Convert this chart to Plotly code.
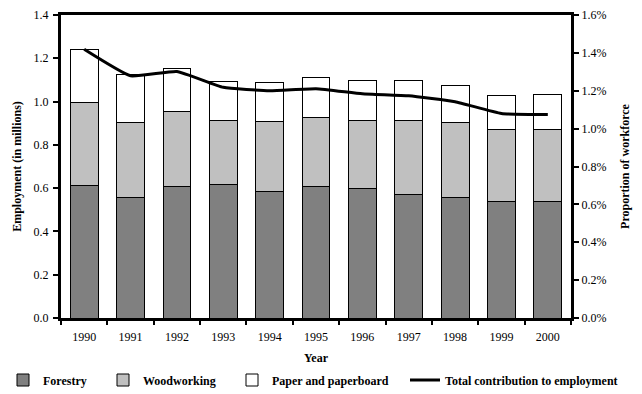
import plotly.graph_objects as go

years = ["1990", "1991", "1992", "1993", "1994", "1995", "1996", "1997", "1998", "1999", "2000"]
forestry = [0.611, 0.556, 0.607, 0.616, 0.583, 0.607, 0.597, 0.569, 0.556, 0.537, 0.537]
woodworking = [0.383, 0.349, 0.349, 0.295, 0.323, 0.318, 0.315, 0.343, 0.346, 0.332, 0.332]
paper = [0.246, 0.218, 0.199, 0.181, 0.180, 0.184, 0.185, 0.185, 0.170, 0.157, 0.162]
total_pct = [1.419, 1.279, 1.302, 1.218, 1.200, 1.211, 1.184, 1.173, 1.142, 1.080, 1.075]

font_family = "Liberation Serif"

fig = go.Figure()
fig.add_trace(go.Bar(x=years, y=forestry, name="Forestry", legend="legend",
                     marker=dict(color="#808080", line=dict(color="black", width=1))))
fig.add_trace(go.Bar(x=years, y=woodworking, name="Woodworking", legend="legend2",
                     marker=dict(color="#c0c0c0", line=dict(color="black", width=1))))
fig.add_trace(go.Bar(x=years, y=paper, name="Paper and paperboard", legend="legend3",
                     marker=dict(color="white", line=dict(color="black", width=1))))
fig.add_trace(go.Scatter(x=years, y=total_pct, name="Total contribution to employment",
                         yaxis="y2", mode="lines", legend="legend4",
                         line=dict(color="black", width=3, shape="spline", smoothing=0.4)))

legend_font = dict(family=font_family, size=12, color="black", weight="bold")

# the page body adds an 8px offset, so the figure is laid out in shifted pixels
OFF = 8
FIG_W, FIG_H = 642 - OFF, 394 - OFF
PLOT_L, PLOT_R, PLOT_T, PLOT_B = 61 - OFF, 571 - OFF, 15 - OFF, 318 - OFF
PLOT_W, PLOT_H = PLOT_R - PLOT_L, PLOT_B - PLOT_T


def leg(text_x):
    px = text_x - 40 - OFF
    return dict(orientation="h", x=(px - PLOT_L) / PLOT_W, xanchor="left",
                y=(PLOT_B - (380 - OFF)) / PLOT_H, yanchor="middle",
                font=legend_font, itemwidth=30, bgcolor="rgba(0,0,0,0)", borderwidth=0)


fig.update_layout(
    width=FIG_W, height=FIG_H,
    margin=dict(l=PLOT_L, r=FIG_W - PLOT_R, t=PLOT_T, b=FIG_H - PLOT_B, autoexpand=False),
    barmode="stack", bargap=0.4,
    plot_bgcolor="white", paper_bgcolor="white",
    font=dict(family=font_family, size=12, color="black"),
    showlegend=True,
    legend=leg(43),
    legend2=leg(143),
    legend3=leg(272),
    legend4=leg(445),
    xaxis=dict(type="category", tickson="boundaries", ticks="outside", ticklen=4,
               tickwidth=2, tickcolor="black", showline=True, linecolor="black",
               linewidth=3, mirror=True, showgrid=False, automargin=False,
               ticklabelstandoff=6,
               title=dict(text="<b>Year</b>", standoff=11,
                          font=dict(family=font_family, size=12))),
    yaxis=dict(range=[0, 1.4], dtick=0.2, tickformat=".1f", ticks="outside", ticklen=5,
               tickwidth=2, tickcolor="black", showline=True, linecolor="black",
               linewidth=3, showgrid=False, zeroline=False, automargin=False,
               ticklabelstandoff=2,
               title=dict(text="<b>Employment (in millions)</b>", standoff=10,
                          font=dict(family=font_family, size=12))),
    yaxis2=dict(range=[0, 1.6], dtick=0.2, tickformat=".1f", ticksuffix="%",
                overlaying="y", side="right", ticks="outside", ticklen=5,
                tickwidth=2, tickcolor="black", showline=True, linecolor="black",
                linewidth=3, showgrid=False, zeroline=False, automargin=False,
                ticklabelstandoff=0,
                title=dict(text="<b>Proportion of workforce</b>", standoff=16,
                           font=dict(family=font_family, size=12))),
)

fig.write_html("out.html")
